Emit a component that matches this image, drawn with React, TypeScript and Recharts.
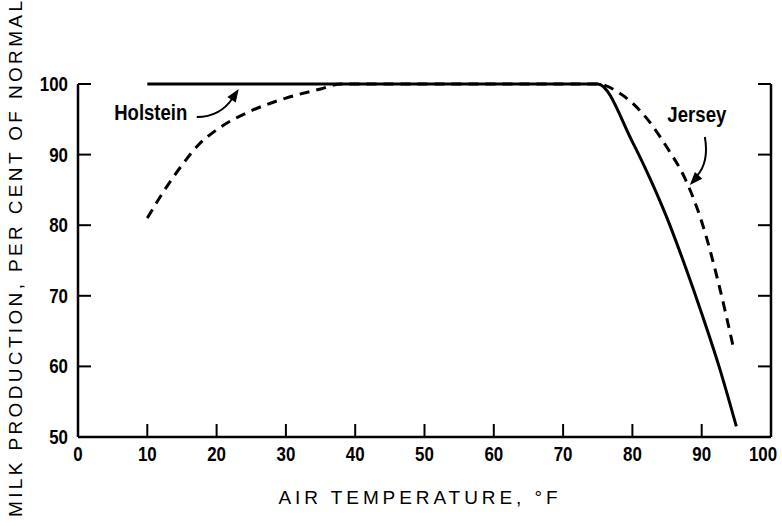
import { LineChart, Line, XAxis, YAxis, ReferenceDot } from 'recharts';

const FONT = '"Liberation Sans", Arial, sans-serif';

const xTicks = [0, 10, 20, 30, 40, 50, 60, 70, 80, 90, 100];
const yTicks = [50, 60, 70, 80, 90, 100];

// Holstein (solid)
const holsteinTemp = [10, 75, 80, 82.5, 85, 87.5, 90, 92.5, 95];
const holsteinMilk = [100, 100, 91.8, 86.7, 81, 74.5, 67.5, 60, 51.5];

// Jersey (dashed)
const jerseyTemp = [10, 12.5, 15, 17.5, 20, 25, 30, 35, 38, 75, 78, 80, 82.5, 85, 87.5, 90, 92.5, 94.5];
const jerseyMilk = [81, 85, 88.5, 91.5, 93.5, 96.2, 98, 99.3, 100, 100, 98.8, 97.3, 94.6, 91, 86.8, 80.5, 71.5, 63];

const holsteinData = holsteinTemp.map((x, i) => ({ x, y: holsteinMilk[i] }));
const jerseyData = jerseyTemp.map((x, i) => ({ x, y: jerseyMilk[i] }));

const TICK_LEN = 13;
const CHAR_W = 9.4;

function arrowHead(tx: number, ty: number, dx: number, dy: number, len = 13, half = 5) {
  const l = Math.hypot(dx, dy);
  const ux = dx / l, uy = dy / l;
  const bx = tx - ux * len, by = ty - uy * len;
  return `M${tx},${ty} L${bx - uy * half},${by + ux * half} L${bx + uy * half},${by - ux * half} Z`;
}

function Narrow({ x, y, anchor, children, size = 20, w }: any) {
  const s = String(children);
  return (
    <text x={x} y={y} textAnchor={anchor} dominantBaseline="central" fontFamily={FONT} fontWeight="bold"
      fontSize={size} fill="#000" textLength={w ?? s.length * CHAR_W} lengthAdjust="spacingAndGlyphs">
      {s}
    </text>
  );
}

const XTitle = () => (
  <text x={418} y={497} textAnchor="middle" dominantBaseline="central" fontFamily={FONT} fontSize={19}
    textLength={279} lengthAdjust="spacing" fill="#000">
    AIR TEMPERATURE,   °F
  </text>
);

const YTitle = () => (
  <text x={0} y={0} transform="translate(15,259) rotate(-90)" textAnchor="middle" dominantBaseline="central"
    fontFamily={FONT} fontSize={19} textLength={516} lengthAdjust="spacing" fill="#000">
    MILK PRODUCTION,  PER CENT OF NORMAL
  </text>
);

function XTick(props: any) {
  const { x, y, payload, index } = props;
  const shift = payload.value === 100 ? -8 : 0;
  return (
    <g>
      {payload.value > 0 && payload.value < 100 && (
        <line x1={x} y1={y} x2={x} y2={y - TICK_LEN} stroke="#000" strokeWidth={2} />
      )}
      <Narrow x={x + shift} y={y + 17} anchor="middle">{payload.value}</Narrow>
      {index === 0 && <XTitle />}
    </g>
  );
}

function YTick(props: any) {
  const { x, y, payload, index } = props;
  return (
    <g>
      {payload.value > 50 && <line x1={x} y1={y} x2={x + TICK_LEN} y2={y} stroke="#000" strokeWidth={2} />}
      <Narrow x={x - 10} y={y} anchor="end">{payload.value}</Narrow>
      {index === 0 && <YTitle />}
    </g>
  );
}

function RTick(props: any) {
  const { x, y, payload } = props;
  if (payload.value === 50) return <g />;
  return <line x1={x} y1={y} x2={x - TICK_LEN} y2={y} stroke="#000" strokeWidth={2} />;
}

function HolsteinNote(props: any) {
  const { cx, cy } = props;
  return (
    <g>
      <Narrow x={cx} y={cy} anchor="middle" size={22} w={73}>Holstein</Narrow>
      <path d={`M${cx + 46},${cy + 4} C${cx + 62},${cy + 4} ${cx + 74},${cy - 3} ${cx + 82},${cy - 15}`} fill="none" stroke="#000" strokeWidth={2} />
      <path d={arrowHead(cx + 88, cy - 24, 8, -12)} fill="#000" />
    </g>
  );
}

function JerseyNote(props: any) {
  const { cx, cy } = props;
  return (
    <g>
      <Narrow x={cx} y={cy} anchor="middle" size={22} w={59}>Jersey</Narrow>
      <path d={`M${cx + 8},${cy + 23} C${cx + 11},${cy + 40} ${cx + 9},${cy + 52} ${cx},${cy + 62}`} fill="none" stroke="#000" strokeWidth={2} />
      <path d={arrowHead(cx - 7, cy + 71, -10, 11)} fill="#000" />
    </g>
  );
}

const axisStyle = { stroke: '#000', strokeWidth: 2.5 };

export default function App() {
  return (
    <div style={{ position: 'absolute', left: 0, top: 0, background: '#fff' }}>
      <LineChart width={782} height={526} margin={{ top: 84, right: 1, bottom: 29, left: 0 }}>
        <XAxis
          type="number"
          dataKey="x"
          domain={[0, 100]}
          ticks={xTicks}
          interval={0}
          tick={XTick}
          axisLine={axisStyle}
          tickLine={false}
          tickSize={0}
          tickMargin={0}
          height={60}
        />
        <YAxis
          type="number"
          domain={[50, 100]}
          ticks={yTicks}
          interval={0}
          tick={YTick}
          axisLine={axisStyle}
          tickLine={false}
          tickSize={0}
          tickMargin={0}
          width={78}
        />
        <YAxis
          yAxisId="r"
          orientation="right"
          type="number"
          domain={[50, 100]}
          ticks={yTicks}
          interval={0}
          tick={RTick}
          axisLine={axisStyle}
          tickLine={false}
          tickSize={0}
          tickMargin={0}
          width={10}
        />
        <Line
          data={holsteinData}
          dataKey="y"
          type="monotone"
          stroke="#000"
          strokeWidth={3}
          dot={false}
          isAnimationActive={false}
        />
        <Line
          yAxisId="r"
          data={jerseyData}
          dataKey="y"
          type="monotone"
          stroke="#000"
          strokeWidth={3}
          strokeDasharray="10 7"
          dot={false}
          isAnimationActive={false}
        />
        <ReferenceDot x={10.5} y={95.9} ifOverflow="visible" shape={HolsteinNote} />
        <ReferenceDot x={89.3} y={95.75} ifOverflow="visible" shape={JerseyNote} />
      </LineChart>
    </div>
  );
}
